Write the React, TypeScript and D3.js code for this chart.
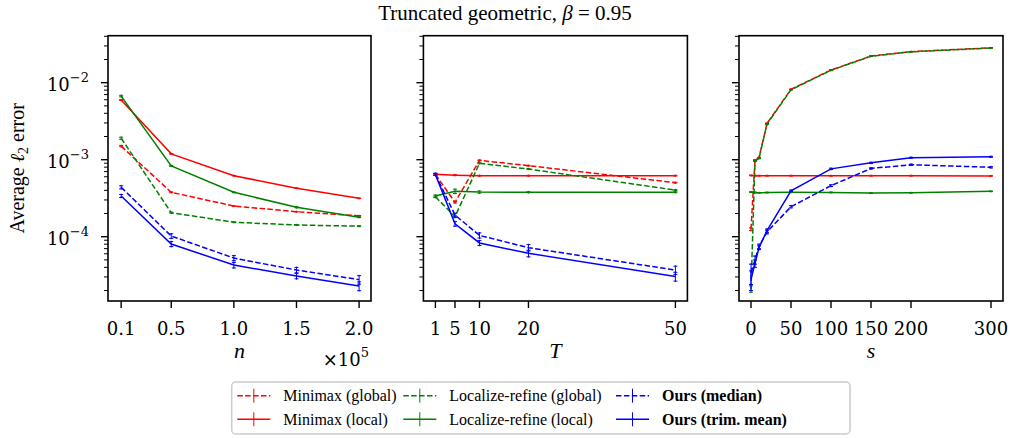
import React from "react";
import * as d3 from "d3";

// x values per panel
const nValues = [0.1, 0.5, 1.0, 1.5, 2.0];
const tValues = [1, 5, 10, 20, 50];
const sValues = [0, 5, 10, 20, 50, 100, 150, 200, 300];

const nTickLabels = ["0.1", "0.5", "1.0", "1.5", "2.0"];
const tTickLabels = ["1", "5", "10", "20", "50"];
const sTicks = [0, 50, 100, 150, 200, 300];
const sTickLabels = ["0", "50", "100", "150", "200", "300"];
const yMajor = [1e-4, 1e-3, 1e-2];
const yExponents = ["\u22124", "\u22123", "\u22122"];

// panel 1: n
const nMinimaxGlobal = [1.5e-3, 3.77e-4, 2.5e-4, 2.11e-4, 1.87e-4];
const nMinimaxLocal = [5.95e-3, 1.19e-3, 6.2e-4, 4.26e-4, 3.15e-4];
const nLocalizeGlobal = [1.9e-3, 2.05e-4, 1.54e-4, 1.42e-4, 1.37e-4];
const nLocalizeLocal = [6.7e-3, 8.3e-4, 3.77e-4, 2.41e-4, 1.79e-4];
const nOursMedian = [4.38e-4, 1.02e-4, 5.28e-5, 3.69e-5, 2.77e-5];
const nOursTrim = [3.38e-4, 8.04e-5, 4.28e-5, 3.09e-5, 2.29e-5];
const nMinimaxGlobalErr = [3e-5, 4e-6, 2e-6, 1.5e-6, 1.5e-6];
const nMinimaxLocalErr = [8e-5, 1e-5, 4e-6, 3e-6, 2e-6];
const nLocalizeGlobalErr = [6e-5, 3e-6, 1.5e-6, 1.5e-6, 1.5e-6];
const nLocalizeLocalErr = [1.5e-4, 1e-5, 4e-6, 4e-6, 2e-6];
const nOursMedianErr = [2e-5, 7e-6, 4e-6, 3e-6, 3.5e-6];
const nOursTrimErr = [1.5e-5, 6e-6, 3.5e-6, 2.5e-6, 3e-6];

// panel 2: T
const tMinimaxGlobal = [6.45e-4, 2.8e-4, 9.8e-4, 8.36e-4, 5.03e-4];
const tMinimaxLocal = [6.45e-4, 6.3e-4, 6.2e-4, 6.2e-4, 6.2e-4];
const tLocalizeGlobal = [3.3e-4, 1.82e-4, 8.97e-4, 7.57e-4, 4.03e-4];
const tLocalizeLocal = [3.38e-4, 3.89e-4, 3.8e-4, 3.78e-4, 3.78e-4];
const tOursMedian = [6.45e-4, 1.91e-4, 1.04e-4, 7.2e-5, 3.69e-5];
const tOursTrim = [6.45e-4, 1.47e-4, 8.3e-5, 6.08e-5, 3.05e-5];
const tMinimaxGlobalErr = [1e-5, 6e-6, 1e-5, 8e-6, 6e-6];
const tMinimaxLocalErr = [1e-5, 8e-6, 6e-6, 6e-6, 6e-6];
const tLocalizeGlobalErr = [8e-6, 5e-6, 1e-5, 8e-6, 6e-6];
const tLocalizeLocalErr = [1e-5, 2.5e-5, 1.2e-5, 6e-6, 5e-6];
const tOursMedianErr = [2e-5, 1e-5, 8e-6, 7e-6, 4.5e-6];
const tOursTrimErr = [2e-5, 1e-5, 6e-6, 6e-6, 4e-6];

// panel 3: s
const sMinimaxGlobal = [1.25e-4, 9.9e-4, 1.06e-3, 2.96e-3, 8.2e-3, 1.46e-2, 2.22e-2, 2.53e-2, 2.83e-2];
const sMinimaxLocal = [6.25e-4, 6.2e-4, 6.2e-4, 6.2e-4, 6.2e-4, 6.18e-4, 6.2e-4, 6.2e-4, 6.15e-4];
const sLocalizeGlobal = [2.1e-5, 9.6e-4, 1.04e-3, 2.9e-3, 8.1e-3, 1.45e-2, 2.2e-2, 2.52e-2, 2.82e-2];
const sLocalizeLocal = [3.8e-4, 3.75e-4, 3.72e-4, 3.74e-4, 3.77e-4, 3.76e-4, 3.68e-4, 3.72e-4, 3.88e-4];
const sOursMedian = [3.4e-5, 5e-5, 7.5e-5, 1.15e-4, 2.45e-4, 4.6e-4, 7.7e-4, 8.6e-4, 7.97e-4];
const sOursTrim = [2.8e-5, 4.5e-5, 7.2e-5, 1.2e-4, 3.95e-4, 7.6e-4, 9.1e-4, 1.06e-3, 1.09e-3];
const sMinimaxGlobalErr = [5e-6, 1e-5, 1e-5, 3e-5, 6e-5, 1e-4, 1.2e-4, 1.2e-4, 1.2e-4];
const sMinimaxLocalErr = [5e-6, 5e-6, 5e-6, 5e-6, 5e-6, 5e-6, 5e-6, 5e-6, 5e-6];
const sLocalizeGlobalErr = [2e-6, 1e-5, 1e-5, 3e-5, 6e-5, 1e-4, 1.2e-4, 1.2e-4, 1.2e-4];
const sLocalizeLocalErr = [4e-6, 4e-6, 3e-6, 3e-6, 3e-6, 3e-6, 3e-6, 3e-6, 3e-6];
const sOursMedianErr = [1e-5, 6e-6, 5e-6, 6e-6, 8e-6, 1.2e-5, 1.5e-5, 1.5e-5, 1.5e-5];
const sOursTrimErr = [8e-6, 5e-6, 4e-6, 6e-6, 8e-6, 1.5e-5, 1.5e-5, 1.5e-5, 1.5e-5];

const legendNames = [
  "Minimax (global)",
  "Minimax (local)",
  "Localize-refine (global)",
  "Localize-refine (local)",
  "Ours (median)",
  "Ours (trim. mean)",
];
const seriesColors = ["#ff0000", "#ff0000", "#008000", "#008000", "#0000ff", "#0000ff"];
const seriesDashed = [true, false, true, false, true, false];

const serif = "'Liberation Serif', 'DejaVu Serif', serif";
const mathFont = "'DejaVu Serif', serif";
const DASH = "5.5,2.4";

const W = 1010;
const H = 438;
const plotTop = 35.7;
const plotBottom = 301;

const y = d3.scaleLog().domain([10 ** -4.835, 10 ** -1.39]).range([plotBottom, plotTop]);

const panels = [
  {
    x0: 108, x1: 371, domain: [-0.005, 2.095], xs: nValues, ticks: nValues, tickLabels: nTickLabels,
    label: "n",
    values: [nMinimaxGlobal, nMinimaxLocal, nLocalizeGlobal, nLocalizeLocal, nOursMedian, nOursTrim],
    errors: [nMinimaxGlobalErr, nMinimaxLocalErr, nLocalizeGlobalErr, nLocalizeLocalErr, nOursMedianErr, nOursTrimErr],
  },
  {
    x0: 423.4, x1: 687.4, domain: [-1.45, 52.45], xs: tValues, ticks: tValues, tickLabels: tTickLabels,
    label: "T",
    values: [tMinimaxGlobal, tMinimaxLocal, tLocalizeGlobal, tLocalizeLocal, tOursMedian, tOursTrim],
    errors: [tMinimaxGlobalErr, tMinimaxLocalErr, tLocalizeGlobalErr, tLocalizeLocalErr, tOursMedianErr, tOursTrimErr],
  },
  {
    x0: 739, x1: 1003, domain: [-15, 315], xs: sValues, ticks: sTicks, tickLabels: sTickLabels,
    label: "s",
    values: [sMinimaxGlobal, sMinimaxLocal, sLocalizeGlobal, sLocalizeLocal, sOursMedian, sOursTrim],
    errors: [sMinimaxGlobalErr, sMinimaxLocalErr, sLocalizeGlobalErr, sLocalizeLocalErr, sOursMedianErr, sOursTrimErr],
  },
];

const minorTicks = y.ticks().filter((t) => {
  const l = Math.log10(t);
  return Math.abs(l - Math.round(l)) > 1e-6;
});

const Panel = ({ p }) => {
  const x = d3.scaleLinear().domain(p.domain).range([p.x0, p.x1]);
  const line = d3
    .line<number>()
    .x((_, i) => x(p.xs[i]))
    .y((d) => y(d));
  return (
    <g>
      <defs>
        <clipPath id={`clip-${p.label}`}>
          <rect x={p.x0} y={plotTop} width={p.x1 - p.x0} height={plotBottom - plotTop} />
        </clipPath>
      </defs>
      <g clipPath={`url(#clip-${p.label})`}>
        {p.values.map((vals, si) => (
          <g key={si}>
            <path
              d={line(vals)}
              fill="none"
              stroke={seriesColors[si]}
              strokeWidth={1.5}
              strokeDasharray={seriesDashed[si] ? DASH : undefined}
            />
            {vals.map((v, i) => {
              const e = p.errors[si][i];
              const cx = x(p.xs[i]);
              const ya = y(v - e);
              const yb = y(v + e);
              return (
                <g key={i} stroke={seriesColors[si]} strokeWidth={1}>
                  <line x1={cx} x2={cx} y1={ya + 0.8} y2={yb - 0.8} />
                  <line x1={cx - 2} x2={cx + 2} y1={ya} y2={ya} />
                  <line x1={cx - 2} x2={cx + 2} y1={yb} y2={yb} />
                </g>
              );
            })}
          </g>
        ))}
      </g>
      {/* y ticks */}
      {yMajor.map((t) => (
        <line key={t} x1={p.x0 - 7} x2={p.x0} y1={y(t)} y2={y(t)} stroke="#000" strokeWidth={1.4} />
      ))}
      {minorTicks.map((t) => (
        <line key={t} x1={p.x0 - 4} x2={p.x0} y1={y(t)} y2={y(t)} stroke="#000" strokeWidth={1} />
      ))}
      {/* x ticks */}
      {p.ticks.map((t, i) => (
        <g key={t}>
          <line x1={x(t)} x2={x(t)} y1={plotBottom} y2={plotBottom + 7} stroke="#000" strokeWidth={1.4} />
          <text x={x(t)} y={335} textAnchor="middle" fontFamily={mathFont} fontSize={18}>
            {p.tickLabels[i]}
          </text>
        </g>
      ))}
      <text
        x={(p.x0 + p.x1) / 2}
        y={358}
        textAnchor="middle"
        fontFamily={serif}
        fontStyle="italic"
        fontSize={22}
      >
        {p.label}
      </text>
      <rect
        x={p.x0}
        y={plotTop}
        width={p.x1 - p.x0}
        height={plotBottom - plotTop}
        fill="none"
        stroke="#000"
        strokeWidth={1.6}
      />
    </g>
  );
};

const legendCols = [237.3, 403.3, 616];
const legendRows = [395.7, 419.3];

const Legend = () => (
  <g>
    <rect x={231.7} y={382} width={850 - 231.7} height={52} rx={4} fill="#fff" stroke="#cccccc" strokeWidth={1.5} />
    {legendNames.map((name, i) => {
      const col = Math.floor(i / 2);
      const row = i % 2;
      const hx = legendCols[col];
      const hy = legendRows[row];
      const bold = i >= 4;
      return (
        <g key={name}>
          <line
            x1={hx}
            x2={hx + 33}
            y1={hy}
            y2={hy}
            stroke={seriesColors[i]}
            strokeWidth={1.5}
            strokeDasharray={seriesDashed[i] ? DASH : undefined}
          />
          <line x1={hx + 16.5} x2={hx + 16.5} y1={hy - 7} y2={hy + 7} stroke={seriesColors[i]} strokeWidth={1} />
          <text
            x={hx + 46}
            y={hy + 5.5}
            fontFamily={serif}
            fontSize={16}
            fontWeight={bold ? "bold" : "normal"}
          >
            {name}
          </text>
        </g>
      );
    })}
  </g>
);

export default function App() {
  return (
    <div style={{ position: "absolute", left: 0, top: 0 }}>
      <svg width={W} height={H} style={{ display: "block", background: "#fff" }}>
        <text x={505} y={20} textAnchor="middle" fontFamily={serif} fontSize={21}>
          Truncated geometric, <tspan fontStyle="italic">{"\u03b2"}</tspan> = 0.95
        </text>
        {panels.map((p) => (
          <Panel key={p.label} p={p} />
        ))}
        {/* y tick labels on the first panel */}
        {yMajor.map((t, i) => (
          <text key={t} x={89} y={y(t) + 8} textAnchor="end" fontFamily={mathFont} fontSize={18}>
            10
            <tspan dy={-9} fontSize={13}>
              {yExponents[i]}
            </tspan>
          </text>
        ))}
        <text
          transform={`translate(24,${(plotTop + plotBottom) / 2}) rotate(-90)`}
          textAnchor="middle"
          fontFamily={serif}
          fontSize={20}
        >
          Average <tspan fontStyle="italic">{"\u2113"}</tspan>
          <tspan dy={4} fontSize={14}>2</tspan>
          <tspan dy={-4}> error</tspan>
        </text>
        <text x={369} y={366} textAnchor="end" fontFamily={mathFont} fontSize={18}>
          {"\u00d7"}10
          <tspan dy={-9} fontSize={13}>5</tspan>
        </text>
        <Legend />
      </svg>
    </div>
  );
}
